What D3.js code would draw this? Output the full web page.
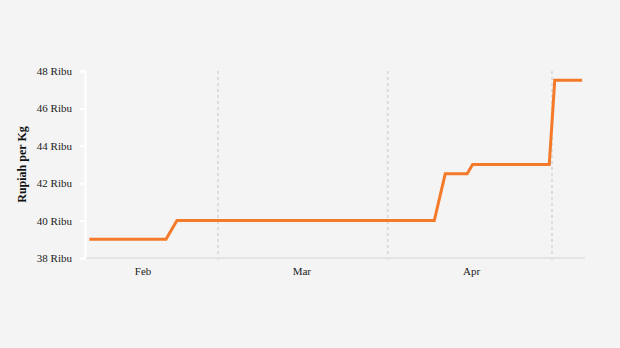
<!DOCTYPE html>
<html>
<head>
<meta charset="utf-8">
<script src="https://cdn.jsdelivr.net/npm/d3@7"></script>
<style>
  body { margin: 0; background: #f4f4f4; }
  svg { display: block; font-family: "Liberation Serif", "Times New Roman", serif; }
</style>
</head>
<body>
<script>
const width = 620, height = 348;
const margin = { top: 71, right: 35, bottom: 90, left: 85 };

// price in thousand rupiah per kg
const dates = ["2024-02-06", "2024-02-20", "2024-02-22", "2024-04-09", "2024-04-11",
    "2024-04-15", "2024-04-16", "2024-04-30", "2024-05-01", "2024-05-06"];
const prices = [39, 39, 40, 40, 42.5, 42.5, 43, 43, 47.5, 47.5];
const yTicks = [38, 40, 42, 44, 46, 48];
const monthLabels = ["Feb", "Mar", "Apr"];
const labelDates = ["2024-02-16", "2024-03-16", "2024-04-16"];
const gridDates = ["2024-03-01", "2024-04-01", "2024-05-01"];

const parse = s => new Date(s + "T12:00:00");
const parseDay = s => new Date(s + "T00:00:00");
const data = dates.map((d, i) => ({ date: parse(d), value: prices[i] }));

const svg = d3.select("body").append("svg")
    .attr("width", width)
    .attr("height", height);

const x = d3.scaleTime()
    .domain([new Date("2024-02-05T17:00:00"), new Date("2024-05-07T00:40:00")])
    .range([margin.left, width - margin.right]);
const y = d3.scaleLinear()
    .domain([38, 48])
    .range([height - margin.bottom, margin.top]);

// vertical dashed month gridlines
svg.append("g").selectAll("line")
    .data(gridDates.map(parseDay))
    .enter()
    .append("line")
    .attr("x1", d => x(d)).attr("x2", d => x(d))
    .attr("y1", margin.top).attr("y2", height - margin.bottom + 5)
    .attr("stroke", "#dcdcdc")
    .attr("stroke-width", 2)
    .attr("stroke-dasharray", "3,3");

// x baseline
svg.append("line")
    .attr("x1", margin.left).attr("x2", width - margin.right)
    .attr("y1", y(38)).attr("y2", y(38))
    .attr("stroke", "#e4e4e4")
    .attr("stroke-width", 2);

// month labels
svg.append("g").selectAll("text")
    .data(monthLabels)
    .enter()
    .append("text")
    .attr("x", (d, i) => x(parse(labelDates[i])) - 1)
    .attr("y", height - margin.bottom + 17)
    .attr("text-anchor", "middle")
    .attr("font-size", 11)
    .attr("fill", "#222")
    .text(d => d);

// y axis
const yAxis = d3.axisLeft(y)
    .tickValues(yTicks)
    .tickSize(5)
    .tickPadding(8)
    .tickFormat(d => d + " Ribu");
const gy = svg.append("g")
    .attr("transform", "translate(" + margin.left + ",0)")
    .call(yAxis);
gy.select(".domain").attr("stroke", "#fff").attr("stroke-width", 2);
gy.selectAll(".tick line").attr("stroke", "#fff").attr("stroke-width", 2);
gy.selectAll(".tick text")
    .attr("font-family", "Liberation Serif, serif")
    .attr("font-size", 11)
    .attr("fill", "#222");

svg.append("text")
    .attr("transform", "translate(26," + (y(43)) + ") rotate(-90)")
    .attr("text-anchor", "middle")
    .attr("font-size", 12)
    .attr("font-weight", "bold")
    .attr("fill", "#111")
    .text("Rupiah per Kg");

// price line
const line = d3.line()
    .x(d => x(d.date))
    .y(d => y(d.value));
svg.append("path")
    .datum(data)
    .attr("fill", "none")
    .attr("stroke", "#f47a2a")
    .attr("stroke-width", 3)
    .attr("d", line);
</script>
</body>
</html>
